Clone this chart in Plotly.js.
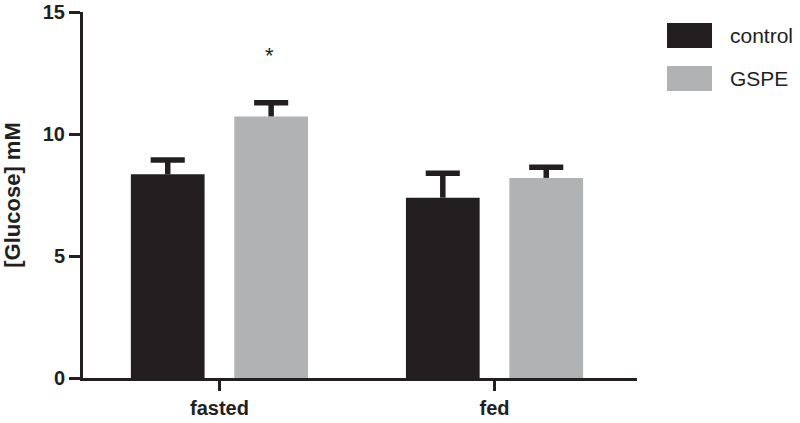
<!DOCTYPE html>
<html>
<head>
<meta charset="utf-8">
<script src="https://cdn.plot.ly/plotly-3.0.1.min.js"></script>
<style>
  html, body { margin: 0; padding: 0; background: #fff; }
  #chart { width: 800px; height: 423px; }
</style>
</head>
<body>
<div id="chart"></div>
<script>
// Data
const categories = ["fasted", "fed"];
const seriesNames = ["control", "GSPE"];
const controlMeans = [8.35, 7.39];
const controlSem = [0.58, 1.0];
const gspeMeans = [10.72, 8.2];
const gspeSem = [0.56, 0.44];
const yTicks = [0, 5, 10, 15];
const starLabel = "*";
const starY = 13.2;

const colors = ["#231f20", "#b1b2b4"];
const dark = "#231f20";
const font = "Liberation Sans, Arial, sans-serif";

// bar placement inside each category (category units)
const barWidth = 0.268;
const barOffsets = [-0.322, 0.054];
const capHalf = 0.062;
const xRange = [-0.496, 1.518];

const series = [
    { name: seriesNames[0], means: controlMeans, sem: controlSem },
    { name: seriesNames[1], means: gspeMeans, sem: gspeSem }
];

const data = [];
series.forEach((s, k) => {
    data.push({
        type: "bar",
        name: s.name,
        x: categories,
        y: s.means,
        width: barWidth,
        offset: barOffsets[k],
        marker: { color: colors[k], line: { width: 0 } },
        showlegend: false
    });
});

// upward-only error bars, T shaped, on a matching numeric axis
series.forEach((s, k) => {
    const ex = [], ey = [];
    s.means.forEach((m, i) => {
        const cx = i + barOffsets[k] + barWidth / 2;
        const top = m + s.sem[i];
        ex.push(cx, cx, null, cx - capHalf, cx + capHalf, null);
        ey.push(m, top, null, top, top, null);
    });
    data.push({
        type: "scatter",
        mode: "lines",
        x: ex,
        y: ey,
        xaxis: "x2",
        line: { color: dark, width: 5.5 },
        showlegend: false,
        hoverinfo: "skip"
    });
});

// legend keys drawn as big blocks like the original
const shapes = [];
const annotations = [];
seriesNames.forEach((name, i) => {
    const yTop = 1 - (23 + i * 43 - 12) / 366;
    shapes.push({
        type: "rect", xref: "paper", yref: "paper",
        x0: (667 - 83) / 554, x1: (712 - 83) / 554,
        y0: yTop - 25 / 366, y1: yTop,
        fillcolor: colors[i], line: { width: 0 }
    });
    annotations.push({
        xref: "paper", yref: "paper",
        x: (728 - 83) / 554, y: yTop - 12.5 / 366,
        xanchor: "left", yanchor: "middle",
        text: name, showarrow: false,
        font: { family: font, size: 21, color: dark }
    });
});

annotations.push({
    x: 0, y: starY, xref: "x", yref: "y",
    xshift: 50, text: starLabel, showarrow: false,
    font: { family: font, size: 22, color: dark }
});

const layout = {
    width: 800,
    height: 423,
    margin: { l: 83, r: 163, t: 12, b: 45 },
    paper_bgcolor: "#fff",
    plot_bgcolor: "#fff",
    barmode: "overlay",
    showlegend: false,
    font: { family: font, color: dark },
    xaxis: {
        type: "category",
        range: xRange,
        showline: true,
        linecolor: dark,
        linewidth: 3,
        ticks: "outside",
        ticklen: 10,
        tickwidth: 3,
        tickcolor: dark,
        showgrid: false,
        zeroline: false,
        tickfont: { family: font, size: 20, color: dark, weight: "bold" }
    },
    xaxis2: {
        overlaying: "x",
        range: xRange,
        visible: false,
        showgrid: false,
        zeroline: false
    },
    yaxis: {
        range: [0, 15],
        tickvals: yTicks,
        ticktext: yTicks.map(String),
        showline: true,
        linecolor: dark,
        linewidth: 3,
        ticks: "outside",
        ticklen: 11,
        tickwidth: 3,
        tickcolor: dark,
        showgrid: false,
        zeroline: false,
        tickfont: { family: font, size: 20, color: dark, weight: "bold" },
        title: {
            text: "[Glucose] mM",
            font: { family: font, size: 22, color: dark, weight: "bold" },
            standoff: 18
        }
    },
    shapes: shapes,
    annotations: annotations
};

Plotly.newPlot("chart", data, layout, { displayModeBar: false, staticPlot: true });
</script>
</body>
</html>
